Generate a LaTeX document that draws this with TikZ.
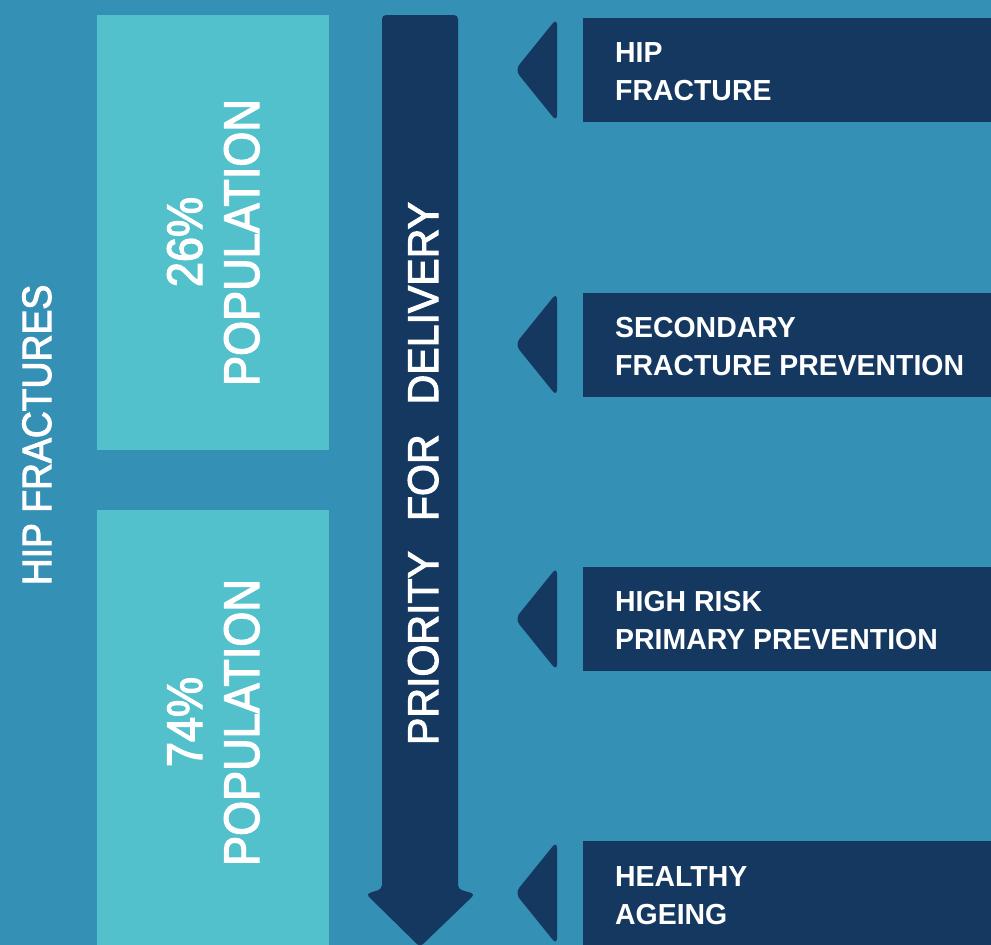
\documentclass[tikz,border=0pt]{standalone}
\usepackage{fontspec}
\setmainfont{Liberation Sans}
\newfontfamily\fPop[FakeStretch=0.9,FakeBold=2.5]{Liberation Sans}
\newfontfamily\fPri[FakeStretch=0.955,FakeBold=2.5]{Liberation Sans}
\newfontfamily\fHip[FakeStretch=0.91,FakeBold=2.5]{Liberation Sans}
\newfontfamily\fRow[FakeStretch=0.98]{Liberation Sans}
\definecolor{bgblue}{RGB}{53,144,182}
\definecolor{navy}{RGB}{21,56,97}
\definecolor{teal}{RGB}{82,193,203}
\tikzset{
  popbox/.style={fill=teal},
  navyshape/.style={fill=navy},
  rowtxt/.style={anchor=base west, inner sep=0pt, text=white,
    font=\fRow\bfseries\fontsize{29}{29}\selectfont},
  vtxt/.style={anchor=base, rotate=90, inner sep=0pt, text=white},
  poptxt/.style={vtxt, font=\fPop\fontsize{50}{50}\selectfont},
}
\begin{document}
\begin{tikzpicture}[x=1pt,y=-1pt]
\useasboundingbox (0,0) rectangle (991,945);
\fill[bgblue] (0,0) rectangle (991,945);

% population boxes
\fill[popbox] (97,15) rectangle (329,450);
\fill[popbox] (97,510) rectangle (329,945);
\node[poptxt] (p26) at (202,242) {26\%};
\node[poptxt] (p26b) at (259,242.5) {POPULATION};
\node[poptxt] (p74) at (202,722) {74\%};
\node[poptxt] (p74b) at (259,722.5) {POPULATION};

% left label
\node[vtxt, font=\fHip\fontsize{41}{41}\selectfont] (hipf) at (51,435) {HIP FRACTURES};

% priority arrow
\fill[navyshape, rounded corners=4pt]
  (382,15) -- (458,15) -- (458,889) -- (475,894) -- (420,947) -- (366,894) -- (382,889) -- cycle;
\node[vtxt, font=\fPri\fontsize{43}{43}\selectfont] (prio) at (438,473.5)
  {PRIORITY\hspace*{30pt}FOR\hspace*{30pt}DELIVERY};

% rows
\foreach \t/\n in {18/r1,292.5/r2,567/r3,841/r4}{
  \fill[navyshape] (583,\t) rectangle (991,\t+104);
  \fill[navyshape, rounded corners=7pt] (557,\t) -- (557,\t+104) -- (515,\t+52) -- cycle;
}
\node[rowtxt] (t1a) at (615,62) {HIP};
\node[rowtxt] (t1b) at (615,100.5) {FRACTURE};
\node[rowtxt] (t2a) at (615,337) {SECONDARY};
\node[rowtxt] (t2b) at (615,375.5) {FRACTURE PREVENTION};
\node[rowtxt] (t3a) at (615,611) {HIGH RISK};
\node[rowtxt] (t3b) at (615,649.5) {PRIMARY PREVENTION};
\node[rowtxt] (t4a) at (615,886) {HEALTHY};
\node[rowtxt] (t4b) at (615,924) {AGEING};
\end{tikzpicture}
\end{document}
